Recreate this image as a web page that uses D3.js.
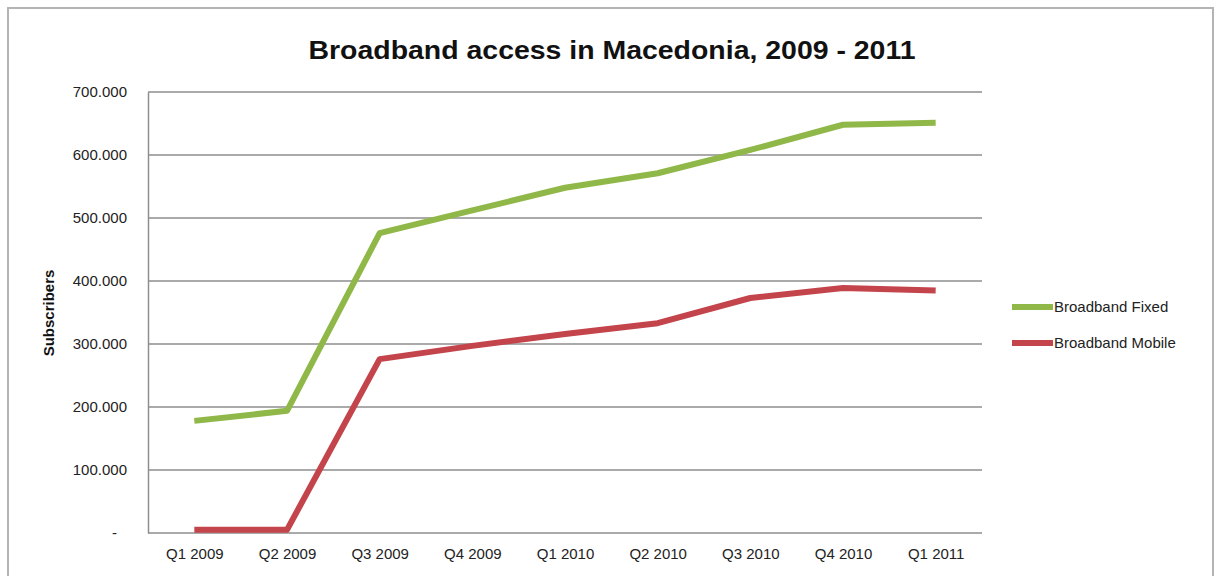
<!DOCTYPE html>
<html>
<head>
<meta charset="utf-8">
<script src="https://cdn.jsdelivr.net/npm/d3@7"></script>
<style>
  html, body { margin: 0; padding: 0; background: #fff; }
  svg { display: block; }
</style>
</head>
<body>
<svg id="chart" width="1214" height="576"></svg>
<script>
// Quarterly broadband subscribers in Macedonia
const quarters = ["Q1 2009", "Q2 2009", "Q3 2009", "Q4 2009", "Q1 2010", "Q2 2010", "Q3 2010", "Q4 2010", "Q1 2011"];
const fixedSubscribers  = [178000, 194000, 476000, 512000, 548000, 571000, 608000, 648000, 651000];
const mobileSubscribers = [5000, 5000, 276000, 297000, 316000, 333000, 373000, 389000, 385000];
const seriesNames = ["Broadband Fixed", "Broadband Mobile"];
const yTicks = [0, 100000, 200000, 300000, 400000, 500000, 600000, 700000];

const colors = ["#8fb848", "#c3444b"];
const series = [fixedSubscribers, mobileSubscribers];

const svg = d3.select("#chart");
const plot = { left: 148, right: 982, top: 92, bottom: 533 };
const font = "'Liberation Sans', Arial, sans-serif";

// outer chart frame
svg.append("rect")
  .attr("x", 8).attr("y", 8)
  .attr("width", 1205).attr("height", 580)
  .attr("fill", "#fff")
  .attr("stroke", "#b4b4b4")
  .attr("stroke-width", 2);

const x = d3.scalePoint().domain(quarters).range([plot.left, plot.right]).padding(0.5);
const y = d3.scaleLinear().domain([0, 700000]).range([plot.bottom, plot.top]);

const locale = d3.formatLocale({ decimal: ",", thousands: ".", grouping: [3], currency: ["", ""] });
const fmt = locale.format(",.0f");

// horizontal gridlines
svg.append("g")
  .selectAll("line")
  .data(yTicks)
  .join("line")
  .attr("x1", plot.left).attr("x2", plot.right)
  .attr("y1", d => y(d)).attr("y2", d => y(d))
  .attr("stroke", "#8e8e8e")
  .attr("stroke-width", 1.5);

// y axis
const yAxis = svg.append("g")
  .attr("transform", `translate(${plot.left},0)`)
  .call(d3.axisLeft(y).tickValues(yTicks).tickSize(0).tickPadding(21)
    .tickFormat(d => d === 0 ? "-" : fmt(d)));
yAxis.select(".domain").attr("stroke", "#8e8e8e").attr("stroke-width", 1.5);
yAxis.selectAll("text")
  .attr("font-family", font).attr("font-size", 15).attr("fill", "#222");
yAxis.selectAll(".tick").filter(d => d === 0).select("text").attr("dx", -10);

// x axis
const xAxis = svg.append("g")
  .attr("transform", `translate(0,${plot.bottom})`)
  .call(d3.axisBottom(x).tickSize(0).tickPadding(15));
xAxis.select(".domain").remove();
xAxis.selectAll("text")
  .attr("font-family", font).attr("font-size", 15).attr("fill", "#222");

// series lines
const line = d3.line().x((d, i) => x(quarters[i])).y(d => y(d));
svg.append("g")
  .selectAll("path")
  .data(series)
  .join("path")
  .attr("d", d => line(d))
  .attr("fill", "none")
  .attr("stroke", (d, i) => colors[i])
  .attr("stroke-width", 6)
  .attr("stroke-linejoin", "round");

// title
svg.append("text")
  .attr("x", 612).attr("y", 59)
  .attr("text-anchor", "middle")
  .attr("font-family", font)
  .attr("font-weight", "bold")
  .attr("font-size", 26)
  .attr("textLength", 607)
  .attr("lengthAdjust", "spacingAndGlyphs")
  .attr("fill", "#111")
  .text("Broadband access in Macedonia, 2009 - 2011");

// y axis title
svg.append("text")
  .attr("transform", "translate(54,313) rotate(-90)")
  .attr("text-anchor", "middle")
  .attr("font-family", font)
  .attr("font-weight", "bold")
  .attr("font-size", 15)
  .attr("fill", "#111")
  .text("Subscribers");

// legend
const legend = svg.append("g")
  .selectAll("g")
  .data(seriesNames)
  .join("g")
  .attr("transform", (d, i) => `translate(1012,${307 + i * 36})`);
legend.append("line")
  .attr("x1", 0).attr("x2", 41)
  .attr("stroke", (d, i) => colors[i])
  .attr("stroke-width", 6);
legend.append("text")
  .attr("x", 42).attr("y", 5)
  .attr("font-family", font).attr("font-size", 15).attr("fill", "#222")
  .text(d => d);
</script>
</body>
</html>
